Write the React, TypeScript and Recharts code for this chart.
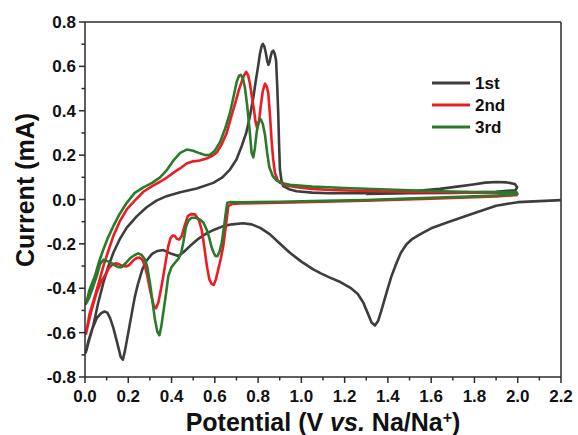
import { LineChart, Line, XAxis, YAxis, ReferenceLine } from "recharts";

// cyclic voltammetry, potential (V) vs current (mA), points in scan order
const cycle1: [number, number][] = [
  [2.2, -0.003], [2.0, -0.012], [1.9, -0.028], [1.825, -0.053], [1.75, -0.078],
  [1.67, -0.105], [1.6, -0.13], [1.548, -0.157], [1.51, -0.18], [1.486, -0.202],
  [1.46, -0.24], [1.44, -0.285], [1.415, -0.35], [1.394, -0.419], [1.37, -0.5],
  [1.355, -0.547], [1.34, -0.568], [1.325, -0.555], [1.31, -0.52], [1.286, -0.464],
  [1.26, -0.425], [1.225, -0.397], [1.18, -0.372], [1.132, -0.352], [1.09, -0.333],
  [1.055, -0.315], [1.0, -0.28], [0.947, -0.24], [0.9, -0.198], [0.855, -0.157],
  [0.81, -0.128], [0.77, -0.112], [0.73, -0.107], [0.68, -0.112], [0.639, -0.12],
  [0.6, -0.135], [0.562, -0.153], [0.52, -0.18], [0.485, -0.21], [0.455, -0.238],
  [0.431, -0.255], [0.4, -0.245], [0.362, -0.228], [0.335, -0.232], [0.31, -0.245],
  [0.285, -0.275], [0.265, -0.315], [0.245, -0.38], [0.23, -0.44], [0.215, -0.52],
  [0.2, -0.6], [0.185, -0.68], [0.175, -0.722], [0.165, -0.71], [0.155, -0.67],
  [0.146, -0.635], [0.13, -0.575], [0.116, -0.535], [0.103, -0.51], [0.09, -0.505],
  [0.075, -0.512], [0.054, -0.535], [0.035, -0.58], [0.02, -0.63], [0.008, -0.675],
  [0.003, -0.69],
  [0.015, -0.64], [0.038, -0.569], [0.06, -0.47], [0.085, -0.375], [0.105, -0.31],
  [0.131, -0.24], [0.16, -0.18], [0.193, -0.127], [0.24, -0.075], [0.285, -0.035],
  [0.33, -0.005], [0.377, 0.015], [0.44, 0.033], [0.516, 0.05], [0.593, 0.075],
  [0.635, 0.1], [0.67, 0.135], [0.7, 0.18], [0.724, 0.24], [0.745, 0.3],
  [0.762, 0.374], [0.778, 0.46], [0.79, 0.539], [0.8, 0.6], [0.809, 0.659],
  [0.816, 0.69], [0.822, 0.701], [0.829, 0.69], [0.836, 0.659], [0.842, 0.625],
  [0.848, 0.607], [0.853, 0.62], [0.858, 0.644], [0.864, 0.665], [0.87, 0.671],
  [0.876, 0.66], [0.883, 0.629], [0.888, 0.52], [0.893, 0.39], [0.897, 0.25],
  [0.901, 0.135], [0.908, 0.085], [0.916, 0.06], [0.947, 0.045], [0.978, 0.037],
  [1.05, 0.031], [1.132, 0.028], [1.3, 0.03], [1.486, 0.035], [1.64, 0.048],
  [1.72, 0.058], [1.794, 0.068], [1.85, 0.076], [1.902, 0.079], [1.95, 0.077],
  [1.987, 0.07], [1.997, 0.055], [1.99, 0.042], [1.9, 0.035], [1.7, 0.03],
  [1.5, 0.028], [1.3, 0.025],
];

const cycle2: [number, number][] = [
  [2.0, 0.02], [1.9, 0.014], [1.8, 0.01], [1.6, 0.004], [1.486, 0.0],
  [1.3, -0.005], [1.1, -0.01], [0.9, -0.014], [0.716, -0.018], [0.68, -0.02],
  [0.662, -0.03], [0.655, -0.09], [0.647, -0.15], [0.639, -0.21], [0.628, -0.265],
  [0.616, -0.315], [0.605, -0.36], [0.595, -0.385], [0.585, -0.38], [0.575, -0.36],
  [0.565, -0.31], [0.555, -0.24], [0.547, -0.185], [0.539, -0.135], [0.525, -0.09],
  [0.508, -0.067], [0.49, -0.066], [0.475, -0.075], [0.46, -0.12], [0.447, -0.165],
  [0.436, -0.18], [0.425, -0.178], [0.416, -0.165], [0.405, -0.162], [0.395, -0.175],
  [0.385, -0.21], [0.373, -0.28], [0.362, -0.345], [0.35, -0.41], [0.339, -0.464],
  [0.328, -0.49], [0.318, -0.48], [0.308, -0.44], [0.3, -0.404], [0.288, -0.345],
  [0.277, -0.3], [0.265, -0.272], [0.254, -0.262], [0.24, -0.263], [0.223, -0.275],
  [0.205, -0.295], [0.19, -0.302], [0.17, -0.298], [0.154, -0.29], [0.14, -0.288],
  [0.125, -0.295], [0.11, -0.31], [0.1, -0.33], [0.075, -0.37], [0.054, -0.419],
  [0.03, -0.5], [0.015, -0.56], [0.005, -0.605],
  [0.02, -0.52], [0.046, -0.434], [0.065, -0.37], [0.085, -0.3], [0.105, -0.24],
  [0.131, -0.165], [0.16, -0.1], [0.193, -0.045], [0.23, -0.005], [0.27, 0.035],
  [0.31, 0.06], [0.347, 0.08], [0.38, 0.1], [0.408, 0.12], [0.439, 0.14],
  [0.47, 0.162], [0.5, 0.172], [0.53, 0.176], [0.562, 0.185], [0.59, 0.198],
  [0.609, 0.212], [0.63, 0.245], [0.655, 0.3], [0.675, 0.37], [0.693, 0.43],
  [0.71, 0.49], [0.724, 0.53], [0.735, 0.56], [0.745, 0.575], [0.754, 0.56],
  [0.762, 0.524], [0.772, 0.46], [0.781, 0.404], [0.788, 0.35], [0.796, 0.322],
  [0.804, 0.35], [0.812, 0.419], [0.822, 0.49], [0.832, 0.522], [0.84, 0.51],
  [0.847, 0.48], [0.855, 0.38], [0.862, 0.27], [0.87, 0.18], [0.878, 0.12],
  [0.89, 0.088], [0.901, 0.075], [0.94, 0.062], [0.978, 0.055], [1.05, 0.048],
  [1.132, 0.043], [1.3, 0.038], [1.5, 0.034], [1.7, 0.032], [1.9, 0.031],
  [1.995, 0.03], [2.0, 0.02],
];

const cycle3: [number, number][] = [
  [2.0, 0.024], [1.9, 0.018], [1.8, 0.014], [1.6, 0.008], [1.486, 0.004],
  [1.3, -0.002], [1.1, -0.006], [0.9, -0.01], [0.716, -0.013], [0.67, -0.012],
  [0.658, -0.015], [0.652, -0.05], [0.647, -0.09], [0.64, -0.14], [0.632, -0.195],
  [0.622, -0.235], [0.612, -0.256], [0.603, -0.255], [0.595, -0.24], [0.585, -0.215],
  [0.575, -0.175], [0.562, -0.135], [0.548, -0.105], [0.531, -0.09], [0.512, -0.082],
  [0.493, -0.082], [0.478, -0.095], [0.466, -0.125], [0.455, -0.19], [0.445, -0.24],
  [0.433, -0.265], [0.416, -0.285], [0.4, -0.305], [0.385, -0.345], [0.375, -0.42],
  [0.362, -0.509], [0.352, -0.575], [0.344, -0.612], [0.334, -0.595], [0.323, -0.539],
  [0.312, -0.46], [0.3, -0.375], [0.288, -0.305], [0.277, -0.27], [0.262, -0.25],
  [0.246, -0.243], [0.23, -0.25], [0.208, -0.265], [0.19, -0.285], [0.17, -0.305],
  [0.155, -0.305], [0.14, -0.298], [0.125, -0.288], [0.105, -0.278], [0.085, -0.272],
  [0.07, -0.29], [0.054, -0.345], [0.035, -0.4], [0.018, -0.445], [0.005, -0.47],
  [0.02, -0.41], [0.046, -0.345], [0.065, -0.28], [0.085, -0.225], [0.105, -0.175],
  [0.131, -0.12], [0.16, -0.065], [0.193, -0.015], [0.23, 0.03], [0.27, 0.055],
  [0.31, 0.075], [0.347, 0.1], [0.38, 0.135], [0.408, 0.175], [0.44, 0.21],
  [0.47, 0.225], [0.5, 0.22], [0.531, 0.208], [0.555, 0.2], [0.578, 0.202],
  [0.6, 0.22], [0.624, 0.258], [0.648, 0.32], [0.67, 0.39], [0.688, 0.47],
  [0.701, 0.53], [0.712, 0.558], [0.72, 0.562], [0.73, 0.545], [0.739, 0.505],
  [0.75, 0.42], [0.762, 0.3], [0.77, 0.21], [0.778, 0.19], [0.785, 0.23],
  [0.793, 0.3], [0.802, 0.35], [0.812, 0.362], [0.822, 0.34], [0.832, 0.29],
  [0.842, 0.21], [0.852, 0.145], [0.868, 0.105], [0.886, 0.085], [0.92, 0.072],
  [0.947, 0.066], [1.05, 0.058], [1.2, 0.052], [1.4, 0.045], [1.6, 0.038],
  [1.8, 0.034], [1.995, 0.032], [2.0, 0.024],
];

const seriesNames = ["1st", "2nd", "3rd"];
const seriesColors = ["#3d3d3d", "#ec1c24", "#2b7a2b"];

const xTicks = [0, 0.1, 0.2, 0.3, 0.4, 0.5, 0.6, 0.7, 0.8, 0.9, 1.0, 1.1, 1.2, 1.3, 1.4, 1.5, 1.6, 1.7, 1.8, 1.9, 2.0, 2.1, 2.2];
const yTicks = [-0.8, -0.7, -0.6, -0.5, -0.4, -0.3, -0.2, -0.1, 0, 0.1, 0.2, 0.3, 0.4, 0.5, 0.6, 0.7, 0.8];

const FONT = "'Liberation Sans', Arial, sans-serif";
const AXIS = "#2b2b2b";

const toPoints = (pts: [number, number][]) => pts.map(([v, i]) => ({ v, i }));
const isMajor = (v: number) => Math.round(v * 10) % 2 === 0;

const XTick = (props: any) => {
  const { x, y, payload } = props;
  const major = isMajor(payload.value);
  return (
    <g>
      <line x1={x} y1={y} x2={x} y2={y + (major ? 6 : 3.5)} stroke={AXIS} strokeWidth={1.5} />
      {major && (
        <text x={x} y={y + 25} textAnchor="middle" fontFamily={FONT} fontWeight="bold" fontSize={17} fill="#111">
          {payload.value.toFixed(1)}
        </text>
      )}
    </g>
  );
};

const YTick = (props: any) => {
  const { x, y, payload } = props;
  const major = isMajor(payload.value);
  return (
    <g>
      <line x1={x} y1={y} x2={x - (major ? 6 : 3.5)} y2={y} stroke={AXIS} strokeWidth={1.5} />
      {major && (
        <text x={x - 9} y={y + 6} textAnchor="end" fontFamily={FONT} fontWeight="bold" fontSize={17} fill="#111">
          {payload.value.toFixed(1)}
        </text>
      )}
    </g>
  );
};

const cycles = [cycle1, cycle2, cycle3];

export default function App() {
  return (
    <div style={{ position: "absolute", left: 0, top: 0, width: 578, height: 435, background: "#fff" }}>
      <LineChart width={578} height={435} margin={{ top: 22, right: 17, bottom: 18, left: 25 }}>
        <XAxis
          dataKey="v"
          type="number"
          domain={[0, 2.2]}
          ticks={xTicks}
          interval={0}
          allowDataOverflow
          height={40}
          tickSize={0}
          tickMargin={0}
          tickLine={false}
          axisLine={{ stroke: AXIS, strokeWidth: 1.5 }}
          tick={<XTick />}
        />
        <YAxis
          dataKey="i"
          type="number"
          domain={[-0.8, 0.8]}
          ticks={yTicks}
          interval={0}
          allowDataOverflow
          width={60}
          tickSize={0}
          tickMargin={0}
          tickLine={false}
          axisLine={{ stroke: AXIS, strokeWidth: 1.5 }}
          tick={<YTick />}
        />
        <ReferenceLine y={0.8} stroke={AXIS} strokeWidth={1.5} />
        <ReferenceLine x={2.2} stroke={AXIS} strokeWidth={1.5} />
        {cycles.map((c, k) => (
          <Line
            key={seriesNames[k]}
            data={toPoints(c)}
            dataKey="i"
            name={seriesNames[k]}
            type="linear"
            stroke={seriesColors[k]}
            strokeWidth={2.6}
            strokeLinejoin="round"
            dot={false}
            activeDot={false}
            isAnimationActive={false}
          />
        ))}
      </LineChart>
      <svg width={578} height={435} style={{ position: "absolute", left: 0, top: 0, pointerEvents: "none" }}>
        {seriesNames.map((name, k) => (
          <g key={name}>
            <line x1={432} x2={470} y1={83 + k * 22} y2={83 + k * 22} stroke={seriesColors[k]} strokeWidth={3} />
            <text x={475} y={89 + k * 22} fontFamily={FONT} fontWeight="bold" fontSize={17} fill="#111">
              {name}
            </text>
          </g>
        ))}
        <text
          x={34}
          y={190}
          transform="rotate(-90, 34, 190)"
          textAnchor="middle"
          fontFamily={FONT}
          fontWeight="bold"
          fontSize={25}
          fill="#111"
        >
          Current (mA)
        </text>
        <text x={323} y={431} textAnchor="middle" fontFamily={FONT} fontWeight="bold" fontSize={25} fill="#111">
          Potential (V <tspan fontStyle="italic">vs.</tspan> Na/Na<tspan dy={-8} fontSize={16}>+</tspan>
          <tspan dy={8}>)</tspan>
        </text>
      </svg>
    </div>
  );
}
